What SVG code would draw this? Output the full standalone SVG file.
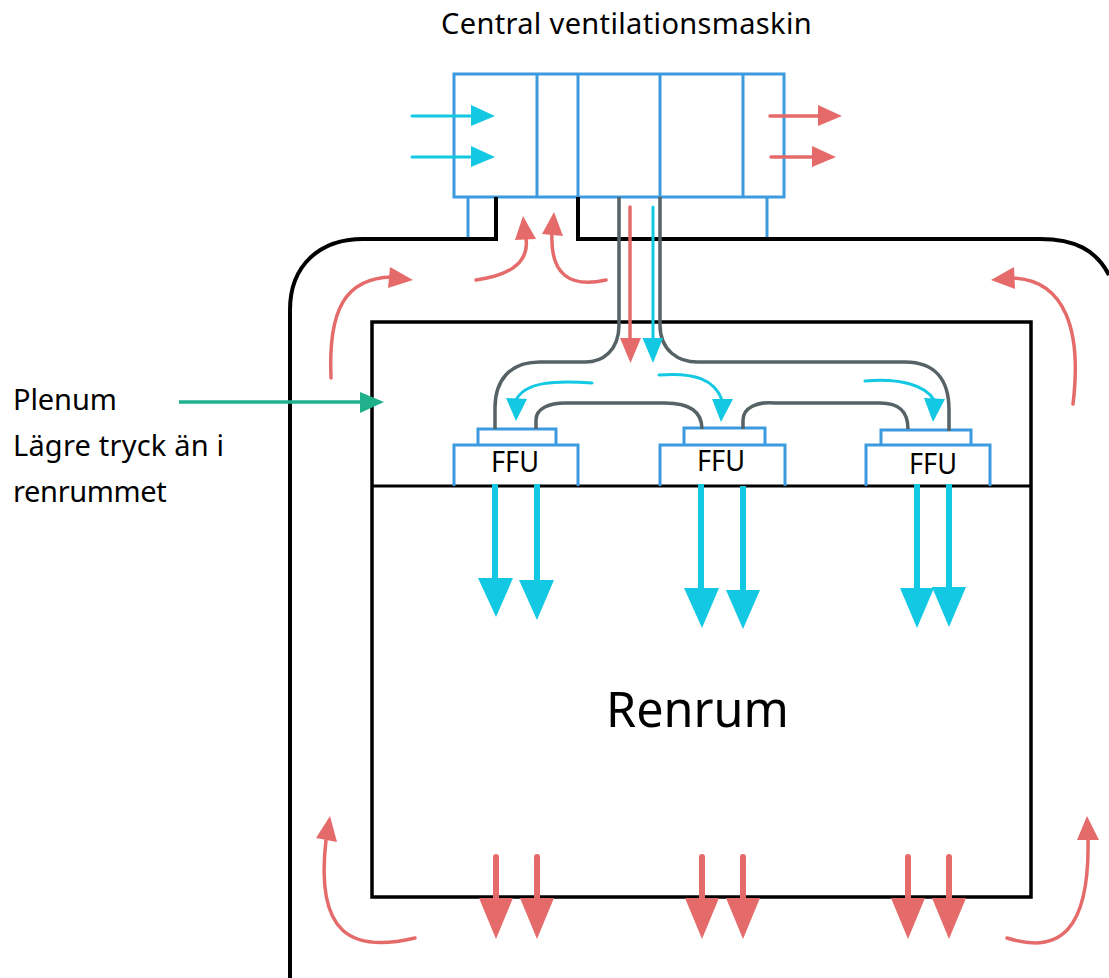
<svg xmlns="http://www.w3.org/2000/svg" width="1109" height="978" viewBox="0 0 1109 978">
<style>
text{font-family:"Noto Sans","Liberation Sans",sans-serif;fill:#000}
.t{font-size:29px;letter-spacing:.35px}
.f{font-size:29px;text-anchor:middle}
.b{fill:none;stroke:#3c9ade;stroke-width:3}
.k{fill:none;stroke:#000;stroke-width:4}
.g{fill:none;stroke:#566266;stroke-width:3.5}
.c{fill:none;stroke:#12c8e2;stroke-width:3;stroke-linecap:round}
.r{fill:none;stroke:#e56b6b;stroke-width:3.5;stroke-linecap:round}
.C{fill:none;stroke:#12c8e2;stroke-width:6}
.R{fill:none;stroke:#e56b6b;stroke-width:6;stroke-linecap:round}
.hc{fill:#12c8e2}.hr{fill:#e56b6b}.hg{fill:#20b08c}
</style>
<rect width="1109" height="978" fill="#fff"/>
<g id="ahu">
<rect class="b" x="454" y="74" width="330" height="123"/>
<path class="b" d="M537 74V197M578 74V197M660 74V197M743 74V197M468 197V239M767 197V239"/>
</g>
<g id="shell">
<path class="k" d="M290 978V310C290 265 320 239 363 239H496V197M578 197V239H1040C1075 239 1096 250 1109 275"/>
</g>
<g id="room">
<rect x="372" y="322" width="659" height="575" fill="none" stroke="#000" stroke-width="3.5"/>
<path d="M372 486H1031" fill="none" stroke="#000" stroke-width="3"/>
</g>
<g id="ffu1">
<path class="b" d="M454 486V445H578V486M478 445V429H556V445"/>
<text class="f" x="515" y="472" textLength="48" lengthAdjust="spacingAndGlyphs">FFU</text>
</g>
<g id="ffu2">
<path class="b" d="M660 486V445H785V486M684 445V428H765V445"/>
<text class="f" x="721" y="471" textLength="48" lengthAdjust="spacingAndGlyphs">FFU</text>
</g>
<g id="ffu3">
<path class="b" d="M866 486V445H990V486M881 445V430H971V445"/>
<text class="f" x="933" y="474" textLength="48" lengthAdjust="spacingAndGlyphs">FFU</text>
</g>
<g id="connectors">
<path class="g" d="M619 197V325C619 350 603 363 583 362H540C510 362 495 380 495 408V429"/>
<path class="g" d="M660 197V325C660 350 678 363 700 362H905C935 362 949 380 949 410V431"/>
<path class="g" d="M536 429V420C536 408 550 403 565 403H665C690 403 702 412 702 429"/>
<path class="g" d="M743 429V420C743 408 757 401 775 403H880C900 403 908 412 908 429"/>
<path class="r" d="M630 207V340"/><path class="hr" d="M620 338H641L630.500 363Z"/>
<path class="c" d="M653 207V340"/><path class="hc" d="M642.500 338H663L653 363Z"/>
<path class="c" d="M592 383C555 380 525 382 516 400"/><path class="hc" d="M506 398L527 399L516 421Z"/>
<path class="c" d="M659 375C695 372 715 380 722 400"/><path class="hc" d="M712 399H733L721 422Z"/>
<path class="c" d="M865 381C900 378 925 385 934 400"/><path class="hc" d="M924 398L945 399L933 422Z"/>
<path class="C" d="M495 484V580"/><path class="hc" d="M478 578H513L496 617Z"/>
<path class="C" d="M537 484V582"/><path class="hc" d="M519 580H554L537 620Z"/>
<path class="C" d="M701 484V590"/><path class="hc" d="M684 588H719L702 628Z"/>
<path class="C" d="M743 486V592"/><path class="hc" d="M726 590H760L743 629Z"/>
<path class="C" d="M917 484V590"/><path class="hc" d="M900 588H934L917 628Z"/>
<path class="C" d="M949 484V589"/><path class="hc" d="M932 587H966L949 627Z"/>
<path class="c" d="M412 116H473"/><path class="hc" d="M471 105L495 116L471 126Z"/>
<path class="c" d="M412 157H473"/><path class="hc" d="M471 146L495 157L471 167Z"/>
<path class="r" d="M770 116H820"/><path class="hr" d="M818 105L842 116L818 126Z"/>
<path class="r" d="M771 157H814"/><path class="hr" d="M812 146L836 157L812 167Z"/>
<path class="r" d="M476 280C505 276 530 265 526 238"/><path class="hr" d="M515 240L536 239L523 216Z"/>
<path class="r" d="M606 280C570 288 550 275 552 233"/><path class="hr" d="M542 234L563 236L554 212Z"/>
<path class="r" d="M331 378C328 310 345 278 392 277"/><path class="hr" d="M390 267L388 288L413 280Z"/>
<path class="r" d="M1073 404C1082 330 1065 280 1013 278"/><path class="hr" d="M1014 267L1015 289L991 280Z"/>
<path class="r" d="M415 938C352 953 315 935 326 840"/><path class="hr" d="M316 838L337 842L330 816Z"/>
<path class="r" d="M1007 938C1060 955 1090 930 1088 838"/><path class="hr" d="M1077 840H1099L1087 816Z"/>
<path class="R" d="M496 857V900"/><path class="hr" d="M479 898H513L496 939Z"/>
<path class="R" d="M537 857V900"/><path class="hr" d="M520 898H554L537 939Z"/>
<path class="R" d="M702 857V900"/><path class="hr" d="M685 898H719L702 939Z"/>
<path class="R" d="M743 857V900"/><path class="hr" d="M726 898H760L743 939Z"/>
<path class="R" d="M908 857V900"/><path class="hr" d="M891 898H925L908 939Z"/>
<path class="R" d="M949 857V900"/><path class="hr" d="M932 898H966L949 939Z"/>
<path d="M179 402H362" fill="none" stroke="#20b08c" stroke-width="3.500"/><path class="hg" d="M360 392L384 402L360 413Z"/>
</g>
<g id="labels">
<text class="t" x="441" y="34">Central ventilationsmaskin</text>
<text class="t" x="13" y="410" style="letter-spacing:-.1px">Plenum</text>
<text class="t" x="13" y="456" style="letter-spacing:.2px">Lägre tryck än i</text>
<text class="t" x="13" y="502" style="letter-spacing:-.35px">renrummet</text>
<text x="606" y="727" style="font-size:48.5px">Renrum</text>
</g>
</svg>
